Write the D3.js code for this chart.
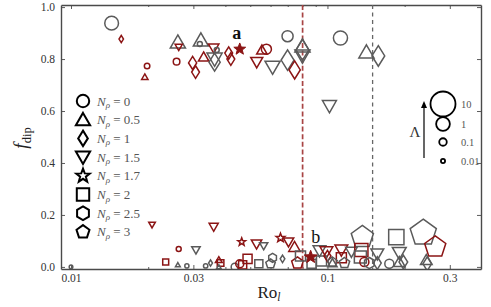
<!DOCTYPE html>
<html>
<head>
<meta charset="utf-8">
<script src="https://cdn.jsdelivr.net/npm/d3@7"></script>
<style>
  body { margin: 0; background: #fff; }
  text { font-family: "Liberation Serif", "DejaVu Serif", serif; }
</style>
</head>
<body>
<div id="chart"></div>
<script>
// ---- data -------------------------------------------------------------
const nrhoLevels = [0, 0.5, 1, 1.5, 1.7, 2, 2.5, 3];
const lambdaKeys = [10, 1, 0.1, 0.01];
const xTicks = [0.01, 0.03, 0.1, 0.3];
const xMinor = [0.02, 0.04, 0.05, 0.06, 0.07, 0.08, 0.09, 0.2];
const yTicks = [0, 0.2, 0.4, 0.6, 0.8, 1.0];
const roLines = [0.08, 0.15];          // red, grey dashed transitions

// one entry per run: Ro_l, f_dip, N_rho, Lambda, branch (g grey / r red)
const ro = [
  0.0144, 0.0157, 0.0198, 0.0194, 0.0258, 0.0261, 0.0263, 0.0321, 0.0318, 0.0360,
  0.0329, 0.0298, 0.0306, 0.0363, 0.0363, 0.0370, 0.0412, 0.0420, 0.0555, 0.0578,
  0.0530, 0.0611, 0.0699, 0.0699, 0.0745, 0.0799, 0.0799, 0.0799, 0.1124, 0.1419,
  0.1579, 0.1018,
  0.0100, 0.0207, 0.0360, 0.0263, 0.0307, 0.0234, 0.0261, 0.0283, 0.0335, 0.0350,
  0.0377, 0.0383, 0.0377, 0.0435, 0.0455, 0.0488, 0.0467, 0.0463, 0.0529, 0.0564,
  0.0656, 0.0705, 0.0744, 0.0611, 0.0600, 0.0668, 0.0764, 0.0785, 0.0931, 0.0991,
  0.0948, 0.0867, 0.1000, 0.1046, 0.1133, 0.1133, 0.1165, 0.1240, 0.1368, 0.1356,
  0.1344, 0.1393, 0.1457, 0.1565, 0.1565, 0.1743, 0.1856, 0.1906, 0.1906, 0.1977,
  0.2364, 0.2632, 0.2429, 0.2450, 0.1046, 0.0540
];
const fdip = [
  0.938, 0.877, 0.773, 0.731, 0.790, 0.865, 0.846, 0.873, 0.858, 0.842,
  0.808, 0.785, 0.750, 0.788, 0.800, 0.835, 0.823, 0.800, 0.835, 0.838,
  0.788, 0.769, 0.888, 0.796, 0.758, 0.835, 0.850, 0.812, 0.881, 0.827,
  0.812, 0.619,
  0.000, 0.162, 0.154, 0.069, 0.065, 0.019, 0.008, 0.004, 0.004, 0.015,
  0.027, 0.015, 0.000, 0.000, 0.012, 0.031, 0.008, 0.096, 0.088, 0.081,
  0.112, 0.096, 0.077, 0.035, 0.012, 0.031, 0.015, 0.042, 0.062, 0.058,
  0.023, 0.012, 0.042, 0.015, 0.065, 0.035, 0.015, 0.058, 0.115, 0.065,
  0.038, 0.019, 0.015, 0.050, 0.015, 0.012, 0.115, 0.054, 0.019, 0.019,
  0.131, 0.077, 0.027, 0.012, 0.019, 0.012
];
const nrho = [
  0, 1, 0, 0.5, 0, 0.5, 1.5, 0.5, 0, 1.5,
  0.5, 1, 1, 1, 1.5, 0, 1, 1, 0.5, 0,
  1.5, 1.5, 0, 1, 1, 1, 0.5, 1.5, 0, 0.5,
  1, 1.5,
  0, 1.5, 1.5, 0, 1.5, 2, 0.5, 0, 0, 1,
  0.5, 2, 0.5, 0, 0, 2, 2, 1.7, 1.5, 1.5,
  1.7, 1.5, 0.5, 2.5, 3, 1, 3, 2, 1.5, 1.5,
  2, 2, 1, 0.5, 1.5, 2, 3, 1.5, 3, 2,
  2, 0, 2.5, 1.5, 1, 0, 2, 1.5, 0.5, 1,
  3, 3, 0.5, 1, 3, 2
];
const lambda = [
  1.0, 0.035, 0.03, 0.03, 0.06, 0.85, 0.05, 0.85, 0.02, 0.2,
  0.2, 0.35, 0.3, 1.2, 0.85, 0.02, 0.3, 0.3, 0.2, 0.3,
  0.35, 0.85, 0.44, 2.0, 1.2, 2.0, 0.85, 0.85, 1.1, 0.85,
  2.0, 0.62,
  0.006, 0.035, 0.12, 0.02, 0.09, 0.04, 0.01, 0.01, 0.012, 0.02,
  0.04, 0.06, 0.01, 0.08, 0.13, 0.2, 0.13, 0.08, 0.2, 0.08,
  0.13, 0.2, 0.3, 0.13, 0.2, 0.04, 0.44, 0.3, 0.44, 0.44,
  0.3, 0.2, 0.2, 0.13, 0.44, 0.3, 0.3, 0.3, 5.3, 0.85,
  0.6, 0.2, 0.3, 0.44, 0.3, 0.2, 1.5, 0.6, 0.3, 0.44,
  10, 4.4, 0.3, 0.44, 0.2, 0.13
];
const branch = [
  'g', 'r', 'r', 'r', 'r', 'g', 'r', 'g', 'g', 'r',
  'r', 'r', 'r', 'g', 'g', 'g', 'r', 'r', 'r', 'r',
  'r', 'g', 'g', 'g', 'r', 'g', 'g', 'g', 'g', 'g',
  'g', 'g',
  'g', 'r', 'r', 'r', 'g', 'r', 'g', 'g', 'g', 'g',
  'r', 'r', 'g', 'g', 'r', 'r', 'r', 'r', 'r', 'g',
  'r', 'r', 'r', 'g', 'g', 'g', 'r', 'g', 'g', 'r',
  'g', 'g', 'r', 'g', 'r', 'r', 'g', 'g', 'g', 'r',
  'g', 'r', 'g', 'g', 'g', 'g', 'g', 'g', 'g', 'g',
  'g', 'r', 'g', 'g', 'g', 'g'
];

// highlighted cases
const caseNames = ['a', 'b'];
const caseRo = [0.0455, 0.086];
const caseF = [0.838, 0.038];
const caseNrho = [1.7, 1.7];
const caseLambda = [0.4, 0.55];

// ---- layout -----------------------------------------------------------
const W = 491, H = 307;
const margin = { top: 5, right: 10, bottom: 38, left: 61 };
const grey = '#5a5a5a', red = '#8b1414';

const svg = d3.select('#chart').append('svg')
  .attr('width', W).attr('height', H);

const x = d3.scaleLog().domain([0.00914, 0.397])
  .range([margin.left, W - margin.right]);
const y = d3.scaleLinear().domain([-0.008, 1.008])
  .range([H - margin.bottom, margin.top]);
const radius = d3.scalePow().exponent(0.26).domain([0, 10]).range([0, 12.5]);
const colour = d3.scaleOrdinal().domain(['g', 'r']).range([grey, red]);

// marker shapes, drawn inside a circle of radius sqrt(size)
function poly(pts) {
  return {
    draw(ctx, size) {
      const r = Math.sqrt(size);
      pts.forEach(([px, py], i) => i ? ctx.lineTo(px * r, py * r) : ctx.moveTo(px * r, py * r));
      ctx.closePath();
    }
  };
}
const regular = (n, k) => d3.range(n).map(i => {
  const a = i * 2 * Math.PI / n;
  return [k * Math.sin(a), -k * Math.cos(a)];
});
const starPts = k => d3.range(10).map(i => {
  const a = i * Math.PI / 5, rr = i % 2 ? k * 0.42 : k;
  return [rr * Math.sin(a), -rr * Math.cos(a)];
});
const circleType = {
  draw(ctx, size) { const r = Math.sqrt(size); ctx.moveTo(r, 0); ctx.arc(0, 0, r, 0, 2 * Math.PI); }
};
const shape = d3.scaleOrdinal().domain(nrhoLevels).range([
  circleType,
  poly([[0, -1.1], [1.15, 0.9], [-1.15, 0.9]]),
  poly([[0, -1.25], [0.78, 0], [0, 1.25], [-0.78, 0]]),
  poly([[0, 1.1], [1.15, -0.9], [-1.15, -0.9]]),
  poly(starPts(1.15)),
  poly([[-1, -1], [1, -1], [1, 1], [-1, 1]]),
  poly(regular(6, 1.1)),
  poly(regular(5, 1.1))
]);
const symbol = (n, r) => d3.symbol().type(shape(n)).size(r * r)();

// ---- axes -------------------------------------------------------------
const x0 = margin.left, x1 = W - margin.right;
const y0 = H - margin.bottom, y1 = margin.top;
const fmt = d => String(+d.toFixed(2));

function styleAxis(g, labels) {
  g.select('.domain').attr('stroke', '#4a4a4a').attr('stroke-width', 1.4);
  g.selectAll('.tick line').attr('stroke', '#4a4a4a').attr('stroke-width', 0.9);
  g.selectAll('.tick text').attr('fill', '#333').attr('font-size', 11.5)
    .attr('font-family', '"Liberation Serif", serif');
  if (!labels) g.selectAll('.tick text').remove();
}

svg.append('g').attr('transform', `translate(0,${y0})`)
  .call(d3.axisBottom(x).tickValues(xTicks).tickFormat(fmt).tickSize(-4).tickSizeOuter(0).tickPadding(5))
  .call(g => styleAxis(g, true));
svg.append('g').attr('transform', `translate(0,${y1})`)
  .call(d3.axisTop(x).tickValues(xTicks).tickSize(-4).tickSizeOuter(0))
  .call(g => styleAxis(g, false));
[[y0, d3.axisBottom], [y1, d3.axisTop]].forEach(([py, ax]) => {
  svg.append('g').attr('transform', `translate(0,${py})`)
    .call(ax(x).tickValues(xMinor).tickSize(-2).tickSizeOuter(0))
    .call(g => { styleAxis(g, false); g.select('.domain').remove(); });
});
svg.append('g').attr('transform', `translate(${x0},0)`)
  .call(d3.axisLeft(y).tickValues(yTicks).tickFormat(d3.format('.1f')).tickSize(-4).tickSizeOuter(0).tickPadding(6))
  .call(g => styleAxis(g, true));
svg.append('g').attr('transform', `translate(${x1},0)`)
  .call(d3.axisRight(y).tickValues(yTicks).tickSize(-4).tickSizeOuter(0))
  .call(g => styleAxis(g, false));

// axis titles
svg.append('text')
  .attr('transform', `translate(27,138) rotate(-90)`)
  .attr('text-anchor', 'middle').attr('font-size', 19).attr('fill', '#222')
  .call(t => {
    t.append('tspan').attr('font-style', 'italic').text('f');
    t.append('tspan').attr('font-size', 12.5).attr('dy', 4).text('dip');
  });
svg.append('text')
  .attr('x', 269).attr('y', 298)
  .attr('text-anchor', 'middle').attr('font-size', 17).attr('fill', '#222')
  .call(t => {
    t.append('tspan').text('Ro');
    t.append('tspan').attr('font-size', 11.5).attr('font-style', 'italic').attr('dy', 3).text('l');
  });

// ---- plot body --------------------------------------------------------
svg.append('clipPath').attr('id', 'plot')
  .append('rect').attr('x', x0).attr('y', y1).attr('width', x1 - x0).attr('height', y0 - y1);
const body = svg.append('g').attr('clip-path', 'url(#plot)');

body.selectAll('line.crit').data(roLines).join('line')
  .attr('class', 'crit')
  .attr('x1', d => x(d)).attr('x2', d => x(d))
  .attr('y1', y1).attr('y2', y0)
  .attr('stroke', (d, i) => i === 0 ? '#a84444' : '#666')
  .attr('stroke-width', (d, i) => i === 0 ? 1.7 : 1.3)
  .attr('stroke-dasharray', (d, i) => i === 0 ? '5,2.6' : '4,3.5');

const idx = d3.range(ro.length);
body.selectAll('path.run').data(idx).join('path')
  .attr('class', 'run')
  .attr('transform', i => `translate(${x(ro[i])},${y(fdip[i])})`)
  .attr('d', i => symbol(nrho[i], radius(lambda[i])))
  .attr('fill', 'none')
  .attr('stroke', i => colour(branch[i]))
  .attr('stroke-width', 1.5);

// highlighted runs a and b
const labelOffset = [[-3, -10], [5, -14]];
body.selectAll('path.case').data(caseNames).join('path')
  .attr('class', 'case')
  .attr('transform', (d, i) => `translate(${x(caseRo[i])},${y(caseF[i])})`)
  .attr('d', (d, i) => symbol(caseNrho[i], radius(caseLambda[i])))
  .attr('fill', red).attr('stroke', red).attr('stroke-width', 1);
svg.selectAll('text.case').data(caseNames).join('text')
  .attr('class', 'case')
  .attr('x', (d, i) => x(caseRo[i]) + labelOffset[i][0])
  .attr('y', (d, i) => y(caseF[i]) + labelOffset[i][1])
  .attr('text-anchor', 'middle')
  .attr('font-size', 18)
  .attr('font-weight', (d, i) => i === 0 ? 'bold' : 'normal')
  .attr('fill', '#111')
  .text(d => d);

// ---- N_rho legend -----------------------------------------------------
const leg = svg.append('g').attr('transform', 'translate(83,101)');
const legItem = leg.selectAll('g').data(nrhoLevels).join('g')
  .attr('transform', (d, i) => `translate(0,${i * 18.7})`);
legItem.append('path')
  .attr('d', d => symbol(d, 6.2))
  .attr('fill', 'none').attr('stroke', '#000').attr('stroke-width', 2);
legItem.append('text')
  .attr('x', 14).attr('y', 4.5)
  .attr('font-size', 13).attr('fill', '#555')
  .call(t => {
    t.append('tspan').attr('font-style', 'italic').text('N');
    t.append('tspan').attr('font-style', 'italic').attr('font-size', 9).attr('dy', 2.5).text('ρ');
    t.append('tspan').attr('dy', -2.5).text(d => ` = ${d}`);
  });

// ---- Lambda size key --------------------------------------------------
const keyY = [104, 124, 142, 161];
const key = svg.append('g');
key.selectAll('circle').data(lambdaKeys).join('circle')
  .attr('cx', 443).attr('cy', (d, i) => keyY[i])
  .attr('r', d => radius(d))
  .attr('fill', 'none').attr('stroke', '#000').attr('stroke-width', 1.8);
key.selectAll('text').data(lambdaKeys).join('text')
  .attr('x', 461).attr('y', (d, i) => keyY[i] + 3.5)
  .attr('font-size', 10.5).attr('fill', '#555')
  .text(d => String(d));
key.append('line')
  .attr('x1', 424).attr('x2', 424).attr('y1', 158).attr('y2', 107)
  .attr('stroke', '#000').attr('stroke-width', 1.2);
key.append('path')
  .attr('d', 'M424,101L421,108L427,108Z').attr('fill', '#000');
key.append('text')
  .attr('x', 415).attr('y', 137).attr('text-anchor', 'middle')
  .attr('font-size', 15).attr('fill', '#333').text('Λ');
</script>
</body>
</html>
